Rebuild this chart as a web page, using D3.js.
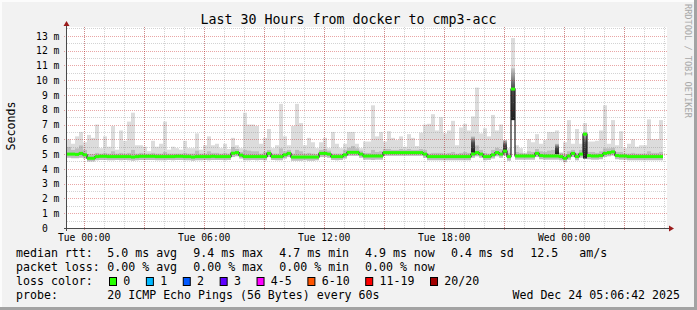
<!DOCTYPE html>
<html>
<head>
<meta charset="utf-8">
<script src="https://cdn.jsdelivr.net/npm/d3@7"></script>
<style>
html, body { margin:0; padding:0; background:#f2f2f2; }
svg { display:block; font-family:"DejaVu Sans Mono", monospace; }
</style>
</head>
<body>
<div id="chart"></div>
<script>

// ---- data (one value per 12 minute column, ms) ----
const rttMax = [
	6.0, 5.7, 6.2, 6.5, 5.8, 6.3, 6.1, 7.0, 5.4, 6.2, 5.5, 6.9, 5.3, 6.6, 5.9, 7.2, 7.8, 5.6, 5.6, 5.5,
	5.2, 5.9, 5.5, 5.7, 7.2, 5.3, 5.5, 5.4, 5.3, 5.9, 5.4, 5.4, 6.4, 5.3, 5.6, 6.2, 5.6,
	5.7, 5.4, 5.7, 5.35, 6.1, 5.6, 5.4, 7.8, 7.0, 7.0, 6.9, 5.7, 6.1, 6.7, 5.4, 5.6, 8.4, 6.2, 5.6, 6.9,
	8.4, 7.1, 5.6, 6.1, 5.8, 5.4, 5.8, 6.1, 5.4, 6.5, 5.7, 5.4, 5.7, 6.5, 6.5, 5.7, 5.4,
	5.85, 5.85, 8.3, 6.2, 6.5, 5.85, 6.55, 6.1, 5.95, 6.2, 5.5, 6.35, 6.1, 5.55, 6.45, 7.0, 7.05, 7.7, 6.6, 7.5,
	6.4, 6.6, 7.25, 5.6, 6.8, 7.05, 6.6, 7.55, 9.5, 6.4, 6.75, 6.2, 7.65, 6.6, 7.0, 5.85, 5.4, 12.85,
	5.6, 5.4, 5.1, 6.0, 5.8, 6.35, 5.7, 5.95, 6.5, 6.5, 6.6, 5.1, 5.8, 7.3, 5.7, 6.7, 5.7, 7.1, 5.85, 5.85,
	5.9, 6.6, 8.3, 5.7, 7.3, 5.6, 6.55, 5.4, 5.7, 6.0, 5.5, 5.6, 5.6, 7.35, 6.0, 6.0, 7.3
];

const rttHigh = [
	5.5, 5.3, 5.4, 5.6, 5.3, 5.0, 5.0, 5.1, 5.05, 5.1, 5.05, 5.2, 5.05, 5.1, 5.05, 5.1, 5.3, 5.05, 5.1, 5.05,
	5.05, 5.1, 5.05, 5.05, 5.15, 5.05, 5.05, 5.05, 5.05, 5.1, 5.05, 5.05, 5.25, 5.05, 5.05, 5.2, 5.1,
	5.1, 5.05, 5.1, 5.05, 5.5, 5.35, 5.15, 5.3, 5.25, 5.2, 5.2, 5.05, 5.15, 5.3, 5.05, 5.05, 5.4, 5.2, 5.3, 5.05,
	5.3, 5.2, 5.05, 5.1, 5.05, 5.0, 5.3, 5.35, 5.25, 5.05, 5.05, 5.05, 5.3, 5.45, 5.55, 5.4, 5.25,
	5.1, 5.1, 5.3, 5.15, 5.2, 5.35, 5.35, 5.3, 5.3, 5.35, 5.3, 5.35, 5.3, 5.3, 5.35, 5.3, 5.05, 5.1, 5.1, 5.1,
	5.05, 5.1, 5.15, 5.05, 5.1, 5.15, 5.1, 5.5, 5.6, 5.3, 5.1, 5.05, 5.3, 5.45, 5.35, 5.6, 5.1, 10.8,
	5.15, 5.1, 5.05, 5.2, 5.15, 5.35, 5.2, 5.15, 5.25, 5.3, 5.4, 5.1, 5.0, 5.2, 5.3, 5.1, 5.3, 6.5, 5.15, 5.15,
	5.1, 5.2, 5.4, 5.4, 5.45, 5.15, 5.15, 5.05, 5.05, 5.1, 5.05, 5.05, 5.05, 5.2, 5.1, 5.1, 5.15
];

const rttMedian = [
	5.0, 5.0, 4.98, 5.05, 4.95, 4.72, 4.72, 4.83, 4.85, 4.85, 4.83, 4.83, 4.83, 4.83, 4.83, 4.83, 4.8, 4.83, 4.85, 4.85,
	4.85, 4.85, 4.83, 4.83, 4.83, 4.83, 4.83, 4.85, 4.85, 4.83, 4.83, 4.8, 4.83, 4.83, 4.83, 4.83, 4.85,
	4.83, 4.83, 4.83, 4.83, 5.06, 5.1, 4.93, 4.83, 4.83, 4.83, 4.83, 4.83, 4.83, 5.05, 4.83, 4.83, 4.83, 4.95, 5.05, 4.8,
	4.8, 4.8, 4.8, 4.8, 4.8, 4.8, 5.05, 5.05, 5.0, 4.83, 4.83, 4.83, 4.95, 5.12, 5.12, 5.12, 5.0,
	4.87, 4.87, 4.87, 4.87, 4.87, 5.1, 5.1, 5.1, 5.1, 5.1, 5.1, 5.1, 5.1, 5.1, 5.1, 5.0, 4.83, 4.83, 4.83, 4.83,
	4.83, 4.83, 4.83, 4.83, 4.83, 4.83, 4.83, 5.0, 5.1, 5.0, 4.83, 4.83, 4.95, 5.1, 5.0, 5.2, 4.83, 9.4,
	4.87, 4.87, 4.87, 4.87, 4.87, 5.05, 4.9, 4.87, 4.87, 4.87, 4.87, 4.83, 4.72, 4.87, 5.05, 4.83, 5.0, 6.35, 4.9, 4.87,
	4.87, 4.9, 5.05, 5.1, 5.15, 4.9, 4.87, 4.87, 4.83, 4.83, 4.83, 4.83, 4.83, 4.83, 4.83, 4.83, 4.83
];

const rttMin = [
	4.75, 4.72, 4.72, 4.75, 4.7, 4.5, 4.5, 4.58, 4.6, 4.6, 4.58, 4.58, 4.6, 4.58, 4.6, 4.58, 4.55, 4.58, 4.6, 4.6,
	4.6, 4.6, 4.58, 4.58, 4.58, 4.6, 4.58, 4.6, 4.6, 4.58, 4.58, 4.55, 4.58, 4.58, 4.6, 4.58, 4.6,
	4.6, 4.6, 4.58, 4.6, 4.8, 4.85, 4.7, 4.58, 4.58, 4.6, 4.58, 4.6, 4.58, 4.8, 4.6, 4.58, 4.58, 4.7, 4.8, 4.55,
	4.55, 4.55, 4.58, 4.55, 4.55, 4.58, 4.8, 4.8, 4.75, 4.6, 4.58, 4.6, 4.7, 4.88, 4.88, 4.88, 4.75,
	4.62, 4.62, 4.6, 4.62, 4.62, 4.88, 4.88, 4.88, 4.88, 4.88, 4.88, 4.88, 4.88, 4.88, 4.88, 4.75, 4.58, 4.58, 4.58, 4.58,
	4.58, 4.58, 4.58, 4.58, 4.58, 4.58, 4.58, 4.75, 4.85, 4.75, 4.58, 4.6, 4.7, 4.85, 4.75, 4.9, 4.55, 7.3,
	4.62, 4.62, 4.62, 4.62, 4.62, 4.8, 4.65, 4.62, 4.62, 4.62, 4.62, 4.58, 4.45, 4.62, 4.8, 4.58, 4.75, 4.7, 4.65, 4.62,
	4.62, 4.65, 4.8, 4.85, 4.9, 4.65, 4.62, 4.62, 4.58, 4.58, 4.58, 4.58, 4.58, 4.58, 4.58, 4.58, 4.58
];

// columns where the smoke is dense (many pings bunched together)
const darkSmoke = [
	{col:101, lo:5.1, hi:6.2},
	{col:109, lo:5.1, hi:5.95},
	{col:111, lo:7.3, hi:10.8},
	{col:122, lo:5.0, hi:5.7},
	{col:129, lo:4.7, hi:6.45}
];

const rttStats = ["5.0 ms avg", "9.4 ms max", "4.7 ms min", "4.9 ms now", "0.4 ms sd"];
const amPerSec = "12.5";
const lossStats = ["0.00 % avg", "0.00 % max", "0.00 % min", "0.00 % now"];
const lossLabels = ["0", "1", "2", "3", "4-5", "6-10", "11-19", "20/20"];
const lossColors = ["#26ff00", "#00b8ff", "#0059ff", "#5e00ff", "#ff00ff", "#ff5500", "#ff0000", "#a10000"];
const probeText = "20 ICMP Echo Pings (56 Bytes) every 60s";
const stampText = "Wed Dec 24 05:06:42 2025";
const titleText = "Last 30 Hours from docker to cmp3-acc";

const startTime = Date.UTC(2025, 11, 22, 23, 10);
const stepMs = 12 * 60 * 1000;
const spanMs = 30 * 3600 * 1000;


//sizing
const width = 697, height = 310;
const plot = {left:67, right:667, top:27, bottom:228};

const svg = d3.select("#chart")
	.append("svg")
	.attr("width", width)
	.attr("height", height);

//background + 3d border
svg.append("rect").attr("width", width).attr("height", height).attr("fill", "#f2f2f2");
svg.append("rect").attr("x", 0).attr("y", 0).attr("width", width).attr("height", 2).attr("fill", "#fcfcfc");
svg.append("rect").attr("x", 0).attr("y", 0).attr("width", 2).attr("height", height).attr("fill", "#fcfcfc");
svg.append("rect").attr("x", 0).attr("y", height-3).attr("width", width).attr("height", 3).attr("fill", "#a3a3a3");
svg.append("rect").attr("x", width-3).attr("y", 0).attr("width", 3).attr("height", height).attr("fill", "#a3a3a3");

//scales
const xScale = d3.scaleUtc()
	.domain([new Date(startTime), new Date(startTime + spanMs)])
	.range([plot.left, plot.right]);

const yScale = d3.scaleLinear()
	.domain([0, 13.6])
	.range([plot.bottom, plot.top]);

const colX0 = (i) => xScale(new Date(startTime + i * stepMs));
const colX1 = (i) => xScale(new Date(startTime + (i + 1) * stepMs));

//canvas
svg.append("rect")
	.attr("x", plot.left)
	.attr("y", plot.top)
	.attr("width", plot.right - plot.left)
	.attr("height", plot.bottom - plot.top)
	.attr("fill", "#ffffff");

//smoke
const defs = svg.append("defs");
const grad = defs.append("linearGradient")
	.attr("id", "dense")
	.attr("x1", 0).attr("y1", 0).attr("x2", 0).attr("y2", 1);
grad.append("stop").attr("offset", "0%").attr("stop-color", "#c4c4c4");
grad.append("stop").attr("offset", "40%").attr("stop-color", "#4a4a4a");
grad.append("stop").attr("offset", "100%").attr("stop-color", "#1e1e1e");

const cols = d3.range(rttMedian.length);

svg.append("g")
	.selectAll("rect")
	.data(cols)
	.enter()
	.append("rect")
	.attr("x", (i) => colX0(i))
	.attr("width", (i) => colX1(i) - colX0(i))
	.attr("y", (i) => yScale(rttMax[i]))
	.attr("height", (i) => yScale(rttHigh[i]) - yScale(rttMax[i]))
	.attr("fill", "#dcdcdc");

svg.append("g")
	.selectAll("rect")
	.data(cols)
	.enter()
	.append("rect")
	.attr("x", (i) => colX0(i))
	.attr("width", (i) => colX1(i) - colX0(i))
	.attr("y", (i) => yScale(rttHigh[i]))
	.attr("height", (i) => yScale(rttMin[i]) - yScale(rttHigh[i]))
	.attr("fill", "#bdbdbd");

svg.append("g")
	.selectAll("rect")
	.data(darkSmoke)
	.enter()
	.append("rect")
	.attr("x", (d) => colX0(d.col))
	.attr("width", (d) => colX1(d.col) - colX0(d.col))
	.attr("y", (d) => yScale(d.hi))
	.attr("height", (d) => yScale(d.lo) - yScale(d.hi))
	.attr("fill", "url(#dense)");

//grid (semi transparent, drawn over the smoke like rrdtool)
const gridG = svg.append("g").attr("shape-rendering", "crispEdges");
const minorX = xScale.ticks(d3.utcHour.every(1));
const majorX = xScale.ticks(d3.utcHour.every(3));
const minorY = d3.range(0.5, 13.6, 1);
const majorY = d3.range(1, 14, 1);

gridG.selectAll(".vmin").data(minorX).enter().append("line")
	.attr("x1", (d) => Math.round(xScale(d)) + 0.5)
	.attr("x2", (d) => Math.round(xScale(d)) + 0.5)
	.attr("y1", plot.top).attr("y2", plot.bottom)
	.attr("stroke", "#808080").attr("stroke-opacity", 0.35).attr("stroke-dasharray", "1,1");

gridG.selectAll(".hmin").data(minorY).enter().append("line")
	.attr("y1", (d) => Math.round(yScale(d)) + 0.5)
	.attr("y2", (d) => Math.round(yScale(d)) + 0.5)
	.attr("x1", plot.left).attr("x2", plot.right)
	.attr("stroke", "#808080").attr("stroke-opacity", 0.35).attr("stroke-dasharray", "1,1");

gridG.selectAll(".vmaj").data(majorX).enter().append("line")
	.attr("x1", (d) => Math.round(xScale(d)) + 0.5)
	.attr("x2", (d) => Math.round(xScale(d)) + 0.5)
	.attr("y1", plot.top).attr("y2", plot.bottom + 3)
	.attr("stroke", "#c00000").attr("stroke-opacity", 0.35).attr("stroke-dasharray", "1,1");

gridG.selectAll(".hmaj").data(majorY).enter().append("line")
	.attr("y1", (d) => Math.round(yScale(d)) + 0.5)
	.attr("y2", (d) => Math.round(yScale(d)) + 0.5)
	.attr("x1", plot.left - 3).attr("x2", plot.right)
	.attr("stroke", "#c00000").attr("stroke-opacity", 0.35).attr("stroke-dasharray", "1,1");

//median line (black step) + loss coloured band
const medianPts = cols.map((i) => [colX0(i), yScale(rttMedian[i])]);
medianPts.push([colX1(cols.length - 1), yScale(rttMedian[cols.length - 1])]);

svg.append("path")
	.datum(medianPts)
	.attr("d", d3.line().curve(d3.curveStepAfter))
	.attr("fill", "none")
	.attr("stroke", "#202020")
	.attr("stroke-width", 1.2);

svg.append("g")
	.selectAll("rect")
	.data(cols)
	.enter()
	.append("rect")
	.attr("x", (i) => colX0(i))
	.attr("width", (i) => colX1(i) - colX0(i))
	.attr("y", (i) => yScale(rttMedian[i]) - 1.5)
	.attr("height", 3)
	.attr("fill", lossColors[0]);

//axes
const xAxis = d3.axisBottom(xScale)
	.tickValues(xScale.ticks(d3.utcHour.every(6)))
	.tickFormat(d3.utcFormat("%a %H:%M"))
	.tickSize(0);

svg.append("g")
	.attr("class", "axis x_axis")
	.attr("transform", `translate(0,${plot.bottom})`)
	.call(xAxis)
	.call((g) => g.select(".domain").remove());

svg.select(".x_axis")
	.selectAll("text")
	.attr("y", 13)
	.attr("dy", 0)
	.attr("fill", "#000")
	.style("font-family", "DejaVu Sans Mono")
	.style("font-size", "9.7px");

const yAxis = d3.axisLeft(yScale)
	.tickValues(d3.range(0, 14))
	.tickFormat((d) => d ? d + " m" : "0\u00a0\u00a0")
	.tickSize(0);

svg.append("g")
	.attr("class", "axis y_axis")
	.attr("transform", `translate(${plot.left},0)`)
	.call(yAxis)
	.call((g) => g.select(".domain").remove());

svg.select(".y_axis")
	.selectAll("text")
	.attr("x", -7.6)
	.attr("dy", 3.2)
	.attr("fill", "#000")
	.style("font-family", "DejaVu Sans Mono")
	.style("font-size", "9.7px");

//axis lines with arrows
svg.append("line")
	.attr("x1", plot.left - 0.5).attr("x2", plot.left - 0.5)
	.attr("y1", plot.bottom + 3).attr("y2", plot.top - 4)
	.attr("stroke", "#4a4a4a");
svg.append("line")
	.attr("x1", plot.left - 3).attr("x2", plot.right + 4)
	.attr("y1", plot.bottom + 0.5).attr("y2", plot.bottom + 0.5)
	.attr("stroke", "#4a4a4a");
svg.append("path")
	.attr("d", `M${plot.left-0.5},${plot.top-6} l-3,5 l6,0 z`)
	.attr("fill", "#9b1c1c");
svg.append("path")
	.attr("d", `M${plot.right+7},${plot.bottom+0.5} l-5,-3 l0,6 z`)
	.attr("fill", "#9b1c1c");

//title and side labels
svg.append("text")
	.attr("x", width/2)
	.attr("y", 24)
	.attr("text-anchor", "middle")
	.style("font-size", "13.3px")
	.text(titleText);

svg.append("text")
	.attr("transform", "translate(15,126) rotate(-90)")
	.attr("text-anchor", "middle")
	.style("font-size", "11.6px")
	.text("Seconds");

svg.append("text")
	.attr("transform", "translate(685,4) rotate(90)")
	.attr("fill", "#a8a8a8")
	.style("font-size", "8.6px")
	.text("RRDTOOL / TOBI OETIKER");

//legend
const legendG = svg.append("g").style("font-size", "11.6px");
const colsX = [16, 107.3, 193.3, 279.3, 365, 451];
const rowY = [257, 271, 285, 299];

legendG.append("text").attr("x", colsX[0]).attr("y", rowY[0]).text("median rtt:");
rttStats.forEach((s, i) => {
	legendG.append("text").attr("x", colsX[i+1]).attr("y", rowY[0]).text(s);
});
legendG.append("text").attr("x", 530.3).attr("y", rowY[0]).text(amPerSec);
legendG.append("text").attr("x", 579.3).attr("y", rowY[0]).text("am/s");

legendG.append("text").attr("x", colsX[0]).attr("y", rowY[1]).text("packet loss:");
lossStats.forEach((s, i) => {
	legendG.append("text").attr("x", colsX[i+1]).attr("y", rowY[1]).text(s);
});

legendG.append("text").attr("x", colsX[0]).attr("y", rowY[2]).text("loss color:");
let cursor = 109;
lossLabels.forEach((lab, i) => {
	legendG.append("rect")
		.attr("x", cursor + 0.5).attr("y", rowY[2] - 7.5)
		.attr("width", 7).attr("height", 8)
		.attr("fill", lossColors[i])
		.attr("stroke", "#000").attr("stroke-width", 1);
	const t = legendG.append("text").attr("x", cursor + 14.3).attr("y", rowY[2]).text(lab);
	cursor = cursor + 14.3 + t.node().getComputedTextLength() + 15.6;
});

legendG.append("text").attr("x", colsX[0]).attr("y", rowY[3]).text("probe:");
legendG.append("text").attr("x", colsX[1]).attr("y", rowY[3]).text(probeText);
legendG.append("text").attr("x", 680).attr("y", rowY[3]).attr("text-anchor", "end").text(stampText);

</script>
</body>
</html>
